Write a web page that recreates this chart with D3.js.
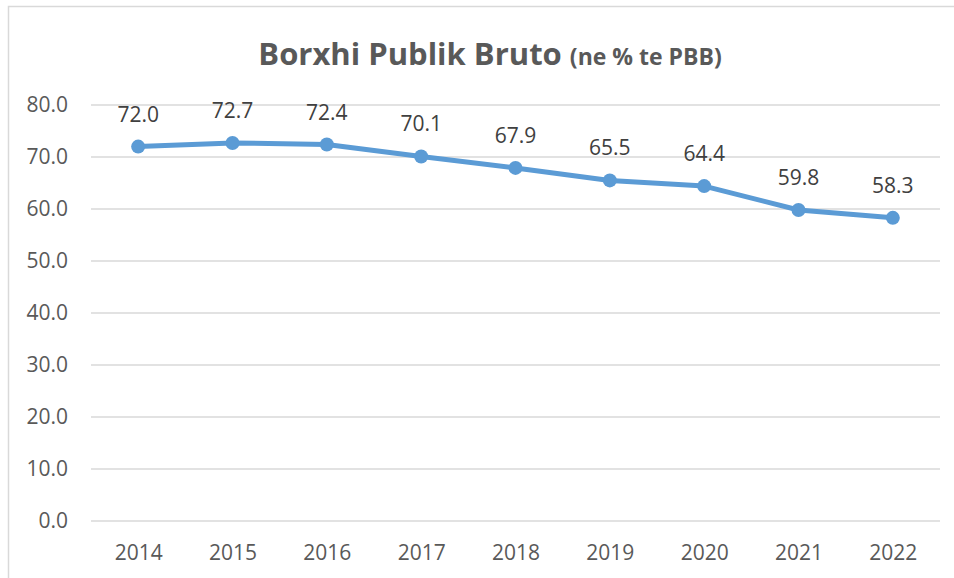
<!DOCTYPE html>
<html>
<head>
<meta charset="utf-8">
<script src="https://cdn.jsdelivr.net/npm/d3@7"></script>
<style>
  body { margin: 0; background: #fff; }
  svg { display: block; font-family: "Open Sans", "Noto Sans", sans-serif; }
</style>
</head>
<body>
<div id="chart"></div>
<script>
// Chart data
let years = ["2014", "2015", "2016", "2017", "2018", "2019", "2020", "2021", "2022"];
let debtValues = [72.0, 72.7, 72.4, 70.1, 67.9, 65.5, 64.4, 59.8, 58.3];
let yTicks = [0, 10, 20, 30, 40, 50, 60, 70, 80];

let width = 954;
let height = 578;
let margin = { top: 105, right: 14, bottom: 57, left: 91 };
let fontFamily = "'Open Sans', 'Noto Sans', sans-serif";

let svg = d3.select("#chart")
    .append("svg")
    .attr("width", width)
    .attr("height", height);

// outer chart border (Excel chart area)
svg.append("rect")
    .attr("x", 8.5)
    .attr("y", 6.5)
    .attr("width", width + 20)
    .attr("height", height + 20)
    .attr("fill", "none")
    .attr("stroke", "#d9d9d9")
    .attr("stroke-width", 1.5);

let x = d3.scalePoint()
    .domain(years)
    .range([margin.left, width - margin.right])
    .padding(0.5);

let y = d3.scaleLinear()
    .domain([0, 80])
    .range([height - margin.bottom, margin.top]);

// gridlines
svg.append("g")
    .selectAll("line")
    .data(yTicks)
    .join("line")
    .attr("x1", margin.left)
    .attr("x2", width - margin.right)
    .attr("y1", (d) => y(d))
    .attr("y2", (d) => y(d))
    .attr("stroke", "#d9d9d9")
    .attr("stroke-width", 1.3);

// y axis labels
let yAxis = d3.axisLeft(y)
    .tickValues(yTicks)
    .tickFormat(d3.format(".1f"))
    .tickSize(0)
    .tickPadding(0);

svg.append("g")
    .attr("transform", `translate(${margin.left - 23},0)`)
    .call(yAxis)
    .attr("font-family", fontFamily)
    .call((g) => g.select(".domain").remove())
    .selectAll("text")
    .attr("fill", "#595959")
    .style("font-size", "21px");

// x axis labels
let xAxis = d3.axisBottom(x).tickSize(0).tickPadding(0);

svg.append("g")
    .attr("transform", `translate(0,${height - margin.bottom + 24})`)
    .call(xAxis)
    .attr("font-family", fontFamily)
    .call((g) => g.select(".domain").remove())
    .selectAll("text")
    .attr("fill", "#595959")
    .style("font-size", "21px");

// line
let line = d3.line()
    .x((d, i) => x(years[i]))
    .y((d) => y(d));

svg.append("path")
    .datum(debtValues)
    .attr("d", line)
    .attr("fill", "none")
    .attr("stroke", "#5b9bd5")
    .attr("stroke-width", 5)
    .attr("stroke-linejoin", "round")
    .attr("stroke-linecap", "round");

// markers
svg.append("g")
    .selectAll("circle")
    .data(debtValues)
    .join("circle")
    .attr("cx", (d, i) => x(years[i]))
    .attr("cy", (d) => y(d))
    .attr("r", 7)
    .attr("fill", "#5b9bd5");

// data labels
svg.append("g")
    .selectAll("text")
    .data(debtValues)
    .join("text")
    .attr("x", (d, i) => x(years[i]))
    .attr("y", (d) => y(d) - 25)
    .attr("text-anchor", "middle")
    .attr("fill", "#404040")
    .style("font-size", "21px")
    .text((d) => d3.format(".1f")(d));

// title
let title = svg.append("text")
    .attr("x", 490)
    .attr("y", 65)
    .attr("text-anchor", "middle")
    .attr("fill", "#595959")
    .style("font-weight", "bold");

title.append("tspan")
    .style("font-size", "31px")
    .text("Borxhi Publik Bruto ");

title.append("tspan")
    .style("font-size", "23px")
    .text("(ne % te PBB)");
</script>
</body>
</html>
